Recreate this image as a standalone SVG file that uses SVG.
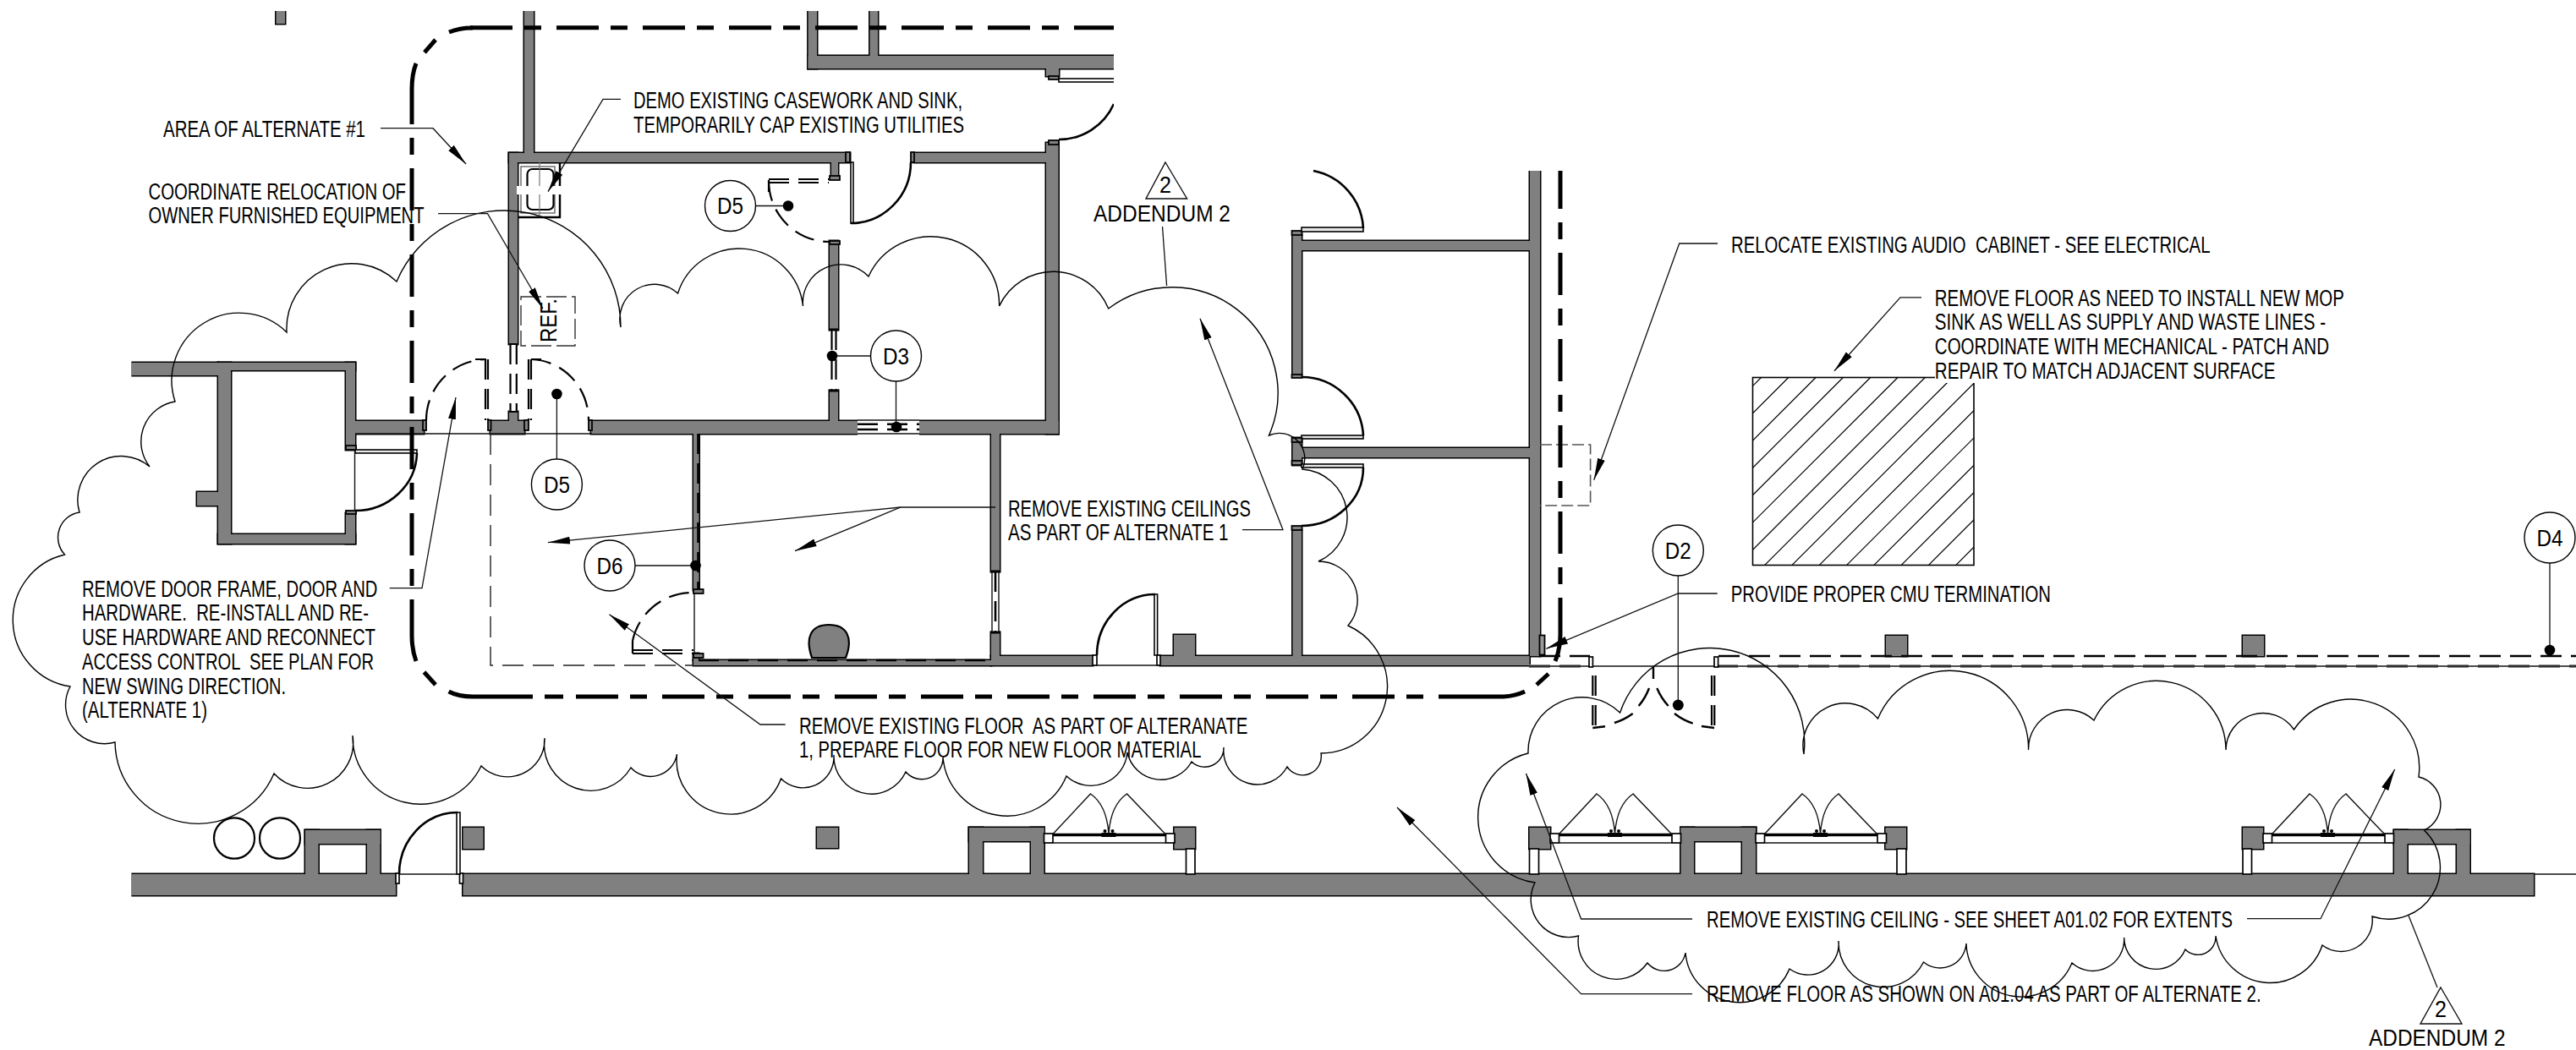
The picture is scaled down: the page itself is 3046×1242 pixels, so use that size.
<svg xmlns="http://www.w3.org/2000/svg" xmlns:xlink="http://www.w3.org/1999/xlink" width="3046" height="1242" viewBox="0 0 3046 1242">
<style>
text{font-family:"Liberation Sans",Arial,sans-serif;font-size:27px;fill:#000;white-space:pre}
.ld{fill:none;stroke:#111;stroke-width:1.3}
.cloud{fill:none;stroke:#000;stroke-width:1.4}
.arc{fill:none;stroke:#000;stroke-width:2.6}
.bound{fill:none;stroke:#000;stroke-width:5}
.demo{fill:none;stroke:#000;stroke-width:2.2;stroke-dasharray:24 11}
.demot{fill:none;stroke:#000;stroke-width:2.6;stroke-dasharray:24 11}
.thin{fill:none;stroke:#111;stroke-width:1.4}
.dash{fill:none;stroke:#222;stroke-width:1.4;stroke-dasharray:25 11}
.leaf{fill:#e8e8e8;stroke:#000;stroke-width:1.6}
.cap{fill:#808080;stroke:#000;stroke-width:1.8}
.open{fill:#fff;stroke:#000;stroke-width:1.7}
.tag{fill:#fff;stroke:#000;stroke-width:1.4}
.dot{fill:#000}
</style>
<defs>
<marker id="arrow" markerUnits="userSpaceOnUse" markerWidth="27" markerHeight="12" refX="26" refY="6" orient="auto"><path d="M0 1.5L26 6L0 10.5Z" fill="#000"/></marker>
<clipPath id="hc"><rect x="2072.5" y="446.5" width="261.5" height="222"/></clipPath>
<g id="wallshapes">
<rect x="326.5" y="5" width="10.5" height="23"/>
<rect x="620" y="5" width="11" height="176"/>
<rect x="602" y="181" width="403" height="11"/>
<rect x="1081" y="181" width="156" height="11"/>
<rect x="602" y="181" width="10" height="226"/>
<rect x="602" y="487" width="10" height="11"/>
<rect x="1237" y="169" width="14.5" height="344"/>
<rect x="419" y="498" width="82" height="15"/>
<rect x="580" y="498" width="40" height="15"/>
<rect x="699" y="498" width="315" height="15"/>
<rect x="1087" y="498" width="164.5" height="15"/>
<rect x="155.6" y="429" width="102.4" height="15"/>
<rect x="258" y="429" width="162" height="9"/>
<rect x="258" y="429" width="15" height="214"/>
<rect x="258" y="632" width="162" height="11"/>
<rect x="409" y="429" width="11" height="103"/>
<rect x="409" y="607" width="11" height="36"/>
<rect x="233" y="582" width="25" height="16"/>
<rect x="983" y="192" width="8" height="16"/>
<rect x="981" y="285" width="10" height="105"/>
<rect x="981" y="462" width="10" height="36"/>
<rect x="955.6" y="5" width="10.4" height="76"/>
<rect x="955.6" y="66" width="380" height="15"/>
<rect x="1028.5" y="5" width="9.5" height="61"/>
<rect x="1237" y="81" width="15" height="9"/>
<rect x="820" y="513" width="6.5" height="185"/>
<rect x="1172" y="513" width="10" height="163"/>
<rect x="1172" y="748" width="10" height="28"/>
<rect x="1172" y="776" width="120" height="11"/>
<rect x="1372" y="776" width="436.5" height="11"/>
<rect x="820" y="781" width="352" height="6"/>
<rect x="820" y="773" width="6" height="8"/>
<rect x="1528.5" y="627" width="10.5" height="149"/>
<rect x="1809" y="190" width="12" height="586"/>
<rect x="1538" y="285" width="271" height="11"/>
<rect x="1528.5" y="278" width="10.5" height="165"/>
<rect x="1528.5" y="518" width="10.5" height="32"/>
<rect x="1539" y="530" width="270" height="11"/>
<rect x="1388" y="751" width="25" height="25"/>
<rect x="2230" y="752" width="25" height="24"/>
<rect x="2652" y="752" width="25" height="24"/>
<rect x="155.6" y="1034" width="312.4" height="25"/>
<rect x="547.5" y="1034" width="2448.5" height="25"/>
<rect x="361" y="982" width="88.5" height="16"/>
<rect x="361" y="982" width="15.5" height="52"/>
<rect x="434" y="982" width="15.5" height="52"/>
<rect x="547.5" y="979" width="24" height="25"/>
<rect x="966" y="979" width="25" height="24"/>
<rect x="1146" y="979" width="88.5" height="16"/>
<rect x="1146" y="979" width="16" height="55"/>
<rect x="1219" y="979" width="15.5" height="55"/>
<rect x="1388.5" y="979" width="24.5" height="25"/>
<rect x="1808.5" y="979" width="24.5" height="25"/>
<rect x="1987.5" y="979" width="88.5" height="16"/>
<rect x="1987.5" y="979" width="15.5" height="55"/>
<rect x="2060" y="979" width="16" height="55"/>
<rect x="2229.5" y="979" width="24.5" height="25"/>
<rect x="2652" y="979" width="24" height="25"/>
<rect x="2831" y="982" width="89.5" height="16"/>
<rect x="2831" y="982" width="15.5" height="52"/>
<rect x="2905" y="982" width="15.5" height="52"/>
</g>
<g id="dw">
<rect class="open" x="0" y="986" width="10.5" height="11"/>
<rect class="open" x="144" y="986" width="10.5" height="11"/>
<path class="thin" d="M10.5 997H144"/>
<path d="M10.5 987.5H144" fill="none" stroke="#000" stroke-width="3.6"/>
<rect x="68" y="985" width="17" height="5" fill="#000"/>
<circle cx="72" cy="983" r="2" fill="#000"/><circle cx="81" cy="983" r="2" fill="#000"/>
<path class="thin" d="M11 986L55 939Q74 952 76.5 986Q79 952 98 939L143 986"/>
</g>
</defs>

<g id="walls">
<use href="#wallshapes" fill="#808080" stroke="#000" stroke-width="3"/>
<use href="#wallshapes" fill="#808080" stroke="none"/>
</g>

<g id="plan-details">
<rect x="602" y="407" width="10" height="80" fill="#fff"/>
<path class="demo" d="M603.5 407V487M610.8 407V487"/>
<path d="M601 407H613M601 487H613" stroke="#000" stroke-width="2"/>
<rect x="981" y="390" width="10" height="72" fill="#fff"/>
<path class="demo" d="M983.5 390V462M988.5 390V462"/>
<path d="M980 390H992M980 462H992" stroke="#000" stroke-width="3"/>
<rect x="1014" y="496" width="73" height="19" fill="#fff"/>
<path class="demot" d="M1014 501.7H1087M1014 508H1087"/>
<path class="thin" d="M1014 497H1087M1014 513H1087"/>
<rect x="1172" y="676" width="10" height="72" fill="#fff"/>
<path class="demot" d="M1177 676V748"/>
<path class="thin" d="M1173 676V748M1181 676V748"/>
<path d="M1171 676H1183M1171 748H1183" stroke="#000" stroke-width="3"/>
<path d="M662 192V257H612" fill="none" stroke="#000" stroke-width="2.4"/>
<rect x="616" y="197" width="40" height="55" fill="none" stroke="#666" stroke-width="1.4"/>
<rect x="623.5" y="200" width="31" height="48" rx="6" fill="none" stroke="#000" stroke-width="2.2"/>
<path d="M638 192V257" stroke="#777" stroke-width="1.2"/>
<rect x="611" y="220" width="54" height="10" fill="#fff"/>
<rect x="616" y="351" width="64" height="58" fill="none" stroke="#333" stroke-width="1.4" stroke-dasharray="24 6"/>
<text transform="translate(658 405) rotate(-90)" textLength="52" lengthAdjust="spacingAndGlyphs" style="font-size:28px">REF.</text>
<rect class="cap" x="409" y="527" width="12" height="5"/>
<rect class="cap" x="409" y="604" width="12" height="4"/>
<rect class="leaf" x="420" y="532" width="73" height="4"/>
<path class="thin" d="M419.5 532V604"/>
<path class="arc" d="M493 536A73 70 0 0 1 420 604"/>
<rect class="cap" x="500" y="497" width="4" height="12"/>
<rect class="cap" x="577" y="497" width="3.5" height="12"/>
<rect class="cap" x="620" y="497" width="5" height="12"/>
<rect class="cap" x="696" y="497" width="4" height="12"/>
<path class="demo" d="M574 425V497M577 425V497M625 425V497M628 425V497M575 425H562M628 425H640"/>
<path class="demo" d="M504 497A72 72 0 0 1 575 425M628 425A70 72 0 0 1 696 497" stroke-dasharray="22 11"/>
<path class="thin" d="M420 513H700"/>
<path class="dash" d="M580 513V787H820"/>
<rect class="cap" x="1000" y="180" width="5" height="12"/>
<rect class="cap" x="1077" y="180" width="4" height="12"/>
<rect class="leaf" x="1006" y="192" width="3" height="72" style="fill:#fff"/>
<path class="arc" d="M1077 192A71 72 0 0 1 1006 264"/>
<rect class="cap" x="981" y="208" width="12" height="5"/>
<rect class="cap" x="981" y="285" width="12" height="4"/>
<path class="demo" d="M909 212H980M909 216H980M909 213V227"/>
<path class="demo" d="M909 214A72 72 0 0 0 981 286" stroke-dasharray="22 11"/>
<rect class="cap" x="1240" y="90" width="12" height="4"/>
<rect x="1252" y="93" width="80" height="4" fill="#fff" stroke="#000" stroke-width="1.6"/>
<rect class="cap" x="1240" y="166" width="12" height="5"/>
<path class="arc" d="M1252 165A71 71 0 0 0 1317 123"/>
<path class="demot" d="M825.5 513V698"/>
<rect class="cap" x="820" y="697" width="11.6" height="5"/>
<rect class="cap" x="820" y="773" width="11.6" height="5"/>
<path class="thin" d="M821 702V773"/>
<path class="demo" d="M748 769H820M748 773H820M748 773V758"/>
<path class="demo" d="M748 758A72 72 0 0 1 820 701" stroke-dasharray="22 11"/>
<path class="demot" d="M826 781H1172"/>
<path d="M960 778C952 755 958 739 980 739C1002 739 1009 755 1000 778Z" fill="#808080" stroke="#000" stroke-width="2.2"/>
<rect class="open" x="1292" y="775" width="5" height="12"/>
<rect class="open" x="1368" y="775" width="4" height="12"/>
<rect class="leaf" x="1365" y="703" width="3.6" height="72" style="fill:#fff"/>
<path class="arc" d="M1297 775A69 72 0 0 1 1366 703"/>
<path class="thin" d="M1297 787H1372"/>
<rect class="cap" x="1527.5" y="273" width="12" height="5"/>
<rect class="cap" x="1527.5" y="443" width="12" height="4"/>
<rect class="leaf" x="1539" y="269" width="73" height="5"/>
<path class="arc" d="M1612 270A73 73 0 0 0 1553 202"/>
<path class="arc" d="M1539 446A73 73 0 0 1 1612 515"/>
<rect class="leaf" x="1539" y="515" width="73" height="4"/>
<rect class="cap" x="1527.5" y="518" width="12" height="5"/>
<rect class="cap" x="1527.5" y="545" width="12" height="5"/>
<rect class="leaf" x="1539" y="549" width="73" height="4"/>
<path class="arc" d="M1612 553A73 69 0 0 1 1539 622"/>
<rect class="cap" x="1527.5" y="622" width="12" height="5"/>
<path d="M1821 526H1880.6V598H1821" fill="none" stroke="#555" stroke-width="1.6" stroke-dasharray="14 5"/>
<rect x="1820.5" y="751.5" width="6" height="23" fill="#999" stroke="#000" stroke-width="1.8"/>
<path d="M1820 776H1880M2032 776H3046" fill="none" stroke="#000" stroke-width="2.4" stroke-dasharray="25 11"/>
<path d="M1808 788H1880M2030 788H3046" fill="none" stroke="#888" stroke-width="4" stroke-dasharray="25 11"/>
<path class="thin" d="M1808 788H3046" stroke-width="1.6"/>
<path class="thin" d="M2996 1034H3046"/>
<rect class="open" x="1879" y="777" width="4.4" height="12"/>
<rect class="open" x="2027" y="777" width="4.6" height="12"/>
<path class="demo" d="M1883.3 789V861M1886.7 789V861M2024 789V861M2027.3 789V861" stroke-dashoffset="-10"/>
<path d="M1883.3 861L1898 859.3M1909 855A72 72 0 0 0 1930.7 844M1937.7 835A72 72 0 0 0 1950 814M1955 789V803M1959.3 814A72 72 0 0 0 1972.7 835M1980 844A72 72 0 0 0 2001.7 855.7M2012 859L2027 861" fill="none" stroke="#000" stroke-width="2.4"/>
<rect x="2072.5" y="446.5" width="261.5" height="222" fill="#fff" stroke="#000" stroke-width="1.6"/>
<path clip-path="url(#hc)" d="M1860.4 668.6l222.1-222.1M1892.7 668.6l222.1-222.1M1925 668.6l222.1-222.1M1957.3 668.6l222.1-222.1M1989.6 668.6l222.1-222.1M2021.9 668.6l222.1-222.1M2054.2 668.6l222.1-222.1M2086.5 668.6l222.1-222.1M2118.8 668.6l222.1-222.1M2151.1 668.6l222.1-222.1M2183.4 668.6l222.1-222.1M2215.7 668.6l222.1-222.1M2248 668.6l222.1-222.1M2280.3 668.6l222.1-222.1M2312.6 668.6l222.1-222.1" fill="none" stroke="#000" stroke-width="1.2"/>
<rect x="2288" y="440" width="52" height="13" fill="#fff"/>
<rect class="open" x="468" y="1033" width="4" height="12"/>
<rect class="open" x="543.5" y="1033" width="4" height="12"/>
<rect class="leaf" x="540" y="961" width="4" height="73" style="fill:#fff"/>
<path class="thin" d="M472 1034H543"/>
<path class="arc" d="M472 1034A69 73 0 0 1 541 961"/>
<ellipse cx="277" cy="991.5" rx="24" ry="24.2" fill="none" stroke="#000" stroke-width="2.2"/>
<ellipse cx="331" cy="991.5" rx="24" ry="24.2" fill="none" stroke="#000" stroke-width="2.2"/>
<use href="#dw" x="1234.5"/>
<use href="#dw" x="1833"/>
<use href="#dw" x="2076"/>
<use href="#dw" x="2676"/>
<rect class="open" x="1402.5" y="1004" width="10.5" height="30"/>
<rect class="open" x="1808.5" y="1004" width="11" height="30"/>
<rect class="open" x="2243" y="1004" width="11" height="30"/>
<rect class="open" x="2652" y="1004" width="10.5" height="30"/>
</g>

<g id="alternate-boundary">
<path class="bound" stroke-dasharray="50 14 20 18" d="M556 32.7H1317"/>
<path class="bound" d="M559 33A72 72 0 0 0 531 38M515 47L502 62M492 75Q487 88 487 105V147"/>
<path class="bound" stroke-dasharray="20 16 50 16" d="M487 163V709"/>
<path class="bound" d="M487 709V752Q487 768 492 782M501.5 795L515 810M530.6 818Q542 824 559 824H630"/>
<path class="bound" stroke-dasharray="50 14 20 18" d="M681 824H1702"/>
<path class="bound" d="M644 824H666M1702 824H1775Q1790 824 1803 818M1817 810L1831 797M1839 782Q1845 768 1845 750V707"/>
<path class="bound" stroke-dasharray="50 16 20 16" stroke-dashoffset="5" d="M1845 202V707"/>
</g>

<g id="revision-clouds">
<path id="cloud-1" class="cloud" d="M207 475A80 80 0 0 1 339 393A77 77 0 0 1 469 333A138 138 0 0 1 734 387A41 41 0 0 1 801.5 347A76 76 0 0 1 949.5 362A45 45 0 0 1 1027 327A81 81 0 0 1 1181.6 362A70.5 70.5 0 0 1 1310.7 365A125 125 0 0 1 1500.5 515A30 30 0 0 1 1540 555A57 57 0 0 1 1559 664A46 46 0 0 1 1594 740A79 79 0 0 1 1562 891A22 22 0 0 1 1522 907A40 40 0 0 1 1447 884A22.5 22.5 0 0 1 1409 901A41 41 0 0 1 1333 890A43 43 0 0 1 1261 918A76 76 0 0 1 1115 896A25 25 0 0 1 1071 913A44.5 44.5 0 0 1 986 893A36.6 36.6 0 0 1 923.5 921A63.6 63.6 0 0 1 800.5 892A31.5 31.5 0 0 1 746 908A55 55 0 0 1 644 873A44 44 0 0 1 569 906A80 80 0 0 1 417 870A54 54 0 0 1 324 915A98 98 0 0 1 136 878A46 46 0 0 1 83 812A79.5 79.5 0 0 1 76.5 656A30 30 0 0 1 94 606A51.6 51.6 0 0 1 177 552A48 48 0 0 1 207 475Z"/>
<path id="cloud-2" class="cloud" d="M1807 891A64 64 0 0 1 1915.6 843A112 112 0 0 1 2133 892A50 50 0 0 1 2220.5 850A92.7 92.7 0 0 1 2398.6 887A46 46 0 0 1 2476 852A82 82 0 0 1 2632 887A44 44 0 0 1 2712.5 863A81 81 0 0 1 2860 919A33.5 33.5 0 0 1 2866.5 982A61 61 0 0 1 2805 1084A37 37 0 0 1 2746 1118A65 65 0 0 1 2620 1107A21 21 0 0 1 2584 1123A37.6 37.6 0 0 1 2511.6 1109A37 37 0 0 1 2450 1139A65 65 0 0 1 2325 1116A31 31 0 0 1 2274.5 1138A53 53 0 0 1 2174 1113A36.5 36.5 0 0 1 2116 1146A64 64 0 0 1 1993 1127A25.6 25.6 0 0 1 1948 1139A45 45 0 0 1 1866.5 1107A44.5 44.5 0 0 1 1815 1044A78 78 0 0 1 1807 891Z"/>
</g>

<g id="masks">
<rect x="0" y="0" width="1400" height="13" fill="#fff"/>
<rect x="1317" y="0" width="220" height="150" fill="#fff"/>
<rect x="1800" y="180" width="60" height="22" fill="#fff"/>
<rect x="148" y="425" width="7.4" height="24" fill="#fff"/>
<rect x="148" y="1030" width="7.4" height="33" fill="#fff"/>
</g>

<g id="connectors">
<path class="ld" marker-end="url(#arrow)" d="M450 151.7H512L551 194"/>
<path class="ld" marker-end="url(#arrow)" d="M518 252.7H576.5L642 365"/>
<path class="ld" marker-end="url(#arrow)" d="M734 117.3H713L648 226.7"/>
<path class="ld" marker-end="url(#arrow)" d="M460.7 695.7H499L539 470"/>
<path class="ld" marker-end="url(#arrow)" d="M1177 600H1065L940 651.7"/>
<path class="ld" marker-end="url(#arrow)" d="M1065 600L648 641.7"/>
<path class="ld" marker-end="url(#arrow)" d="M1469 626.7H1517L1419 376.7"/>
<path class="ld" d="M1374.5 268L1379.6 338"/>
<path class="ld" marker-end="url(#arrow)" d="M928.6 857H899L720.4 726.7"/>
<path class="ld" marker-end="url(#arrow)" d="M2031 288H1985.7L1884.7 567.7"/>
<path class="ld" marker-end="url(#arrow)" d="M2272 351.8H2247L2169 438.7"/>
<path class="ld" marker-end="url(#arrow)" d="M2030.7 702H1984.3L1828.3 767.3"/>
<path class="ld" marker-end="url(#arrow)" d="M2001 1087H1869.6L1804.5 915"/>
<path class="ld" marker-end="url(#arrow)" d="M2657 1086.7H2744L2831.7 910"/>
<path class="ld" marker-end="url(#arrow)" d="M2001 1175.7H1869.6L1652 955"/>
<path class="ld" d="M2848 1083L2882 1168"/>
<path class="ld" d="M893.5 243.5H932"/>
<path class="ld" d="M1030 421H984"/>
<path class="ld" d="M1059.5 451V505"/>
<path class="ld" d="M751 669H822.5"/>
<path class="ld" d="M658.4 466V543"/>
<path class="ld" d="M1984.3 681V834"/>
<path class="ld" d="M3015 666V769"/>
</g>

<g id="tag-d5a"><circle class="tag" cx="863.5" cy="243.5" r="30"/><text x="848" y="253" textLength="31" lengthAdjust="spacingAndGlyphs">D5</text><circle class="dot" cx="932" cy="243.5" r="6.3"/></g>
<g id="tag-d3"><circle class="tag" cx="1059.5" cy="421" r="30"/><text x="1044" y="430.5" textLength="31" lengthAdjust="spacingAndGlyphs">D3</text><circle class="dot" cx="984" cy="421" r="6.3"/><circle class="dot" cx="1060" cy="505" r="6.3"/></g>
<g id="tag-d5b"><circle class="tag" cx="658.4" cy="573" r="30"/><text x="642.9" y="582.5" textLength="31" lengthAdjust="spacingAndGlyphs">D5</text><circle class="dot" cx="658.4" cy="466" r="6.3"/></g>
<g id="tag-d6"><circle class="tag" cx="721" cy="669" r="30"/><text x="705.5" y="678.5" textLength="31" lengthAdjust="spacingAndGlyphs">D6</text><circle class="dot" cx="822.5" cy="669" r="6.3"/></g>
<g id="tag-d2"><circle class="tag" cx="1984.3" cy="651" r="30"/><text x="1968.8" y="660.5" textLength="31" lengthAdjust="spacingAndGlyphs">D2</text><circle class="dot" cx="1984.3" cy="834" r="6.5"/></g>
<g id="tag-d4"><circle class="tag" cx="3015" cy="636" r="30"/><text x="2999.5" y="645.5" textLength="31" lengthAdjust="spacingAndGlyphs">D4</text><circle class="dot" cx="3015" cy="769" r="6.3"/></g>

<g id="addendum-1"><path class="thin" d="M1378 192L1403.6 235H1355Z"/><text x="1371" y="228.3" textLength="14" lengthAdjust="spacingAndGlyphs">2</text><text x="1293" y="261.7" textLength="162" lengthAdjust="spacingAndGlyphs">ADDENDUM 2</text></g>
<g id="addendum-2"><path class="thin" d="M2886 1168L2911 1211H2862Z"/><text x="2879" y="1203" textLength="14" lengthAdjust="spacingAndGlyphs">2</text><text x="2801" y="1237" textLength="161.5" lengthAdjust="spacingAndGlyphs">ADDENDUM 2</text></g>

<g id="note-area"><text x="193" y="161.5" textLength="239" lengthAdjust="spacingAndGlyphs">AREA OF ALTERNATE #1</text></g>
<g id="note-coordinate"><text x="175.5" y="235.7" textLength="304.5" lengthAdjust="spacingAndGlyphs">COORDINATE RELOCATION OF</text><text x="175.5" y="263.7" textLength="326" lengthAdjust="spacingAndGlyphs">OWNER FURNISHED EQUIPMENT</text></g>
<g id="note-demo"><text x="749" y="128" textLength="389" lengthAdjust="spacingAndGlyphs">DEMO EXISTING CASEWORK AND SINK,</text><text x="749" y="156.7" textLength="391" lengthAdjust="spacingAndGlyphs">TEMPORARILY CAP EXISTING UTILITIES</text></g>
<g id="note-door"><text x="97" y="705.7" textLength="349.4" lengthAdjust="spacingAndGlyphs">REMOVE DOOR FRAME, DOOR AND</text><text x="97" y="734.3" textLength="339" lengthAdjust="spacingAndGlyphs">HARDWARE.  RE-INSTALL AND RE-</text><text x="97" y="762.7" textLength="347" lengthAdjust="spacingAndGlyphs">USE HARDWARE AND RECONNECT</text><text x="97" y="791.7" textLength="345" lengthAdjust="spacingAndGlyphs">ACCESS CONTROL  SEE PLAN FOR</text><text x="97" y="820.7" textLength="241" lengthAdjust="spacingAndGlyphs">NEW SWING DIRECTION.</text><text x="97" y="849" textLength="148" lengthAdjust="spacingAndGlyphs">(ALTERNATE 1)</text></g>
<g id="note-ceilings"><text x="1192" y="610.7" textLength="287" lengthAdjust="spacingAndGlyphs">REMOVE EXISTING CEILINGS</text><text x="1192" y="638.7" textLength="260.6" lengthAdjust="spacingAndGlyphs">AS PART OF ALTERNATE 1</text></g>
<g id="note-floor"><text x="945" y="867.7" textLength="530.5" lengthAdjust="spacingAndGlyphs">REMOVE EXISTING FLOOR  AS PART OF ALTERANATE</text><text x="945" y="896" textLength="475.4" lengthAdjust="spacingAndGlyphs">1, PREPARE FLOOR FOR NEW FLOOR MATERIAL</text></g>
<g id="note-relocate"><text x="2047" y="299" textLength="566.5" lengthAdjust="spacingAndGlyphs">RELOCATE EXISTING AUDIO  CABINET - SEE ELECTRICAL</text></g>
<g id="note-mop"><text x="2287.8" y="361.6" textLength="484" lengthAdjust="spacingAndGlyphs">REMOVE FLOOR AS NEED TO INSTALL NEW MOP</text><text x="2287.8" y="390" textLength="462.2" lengthAdjust="spacingAndGlyphs">SINK AS WELL AS SUPPLY AND WASTE LINES -</text><text x="2287.8" y="418.8" textLength="466.2" lengthAdjust="spacingAndGlyphs">COORDINATE WITH MECHANICAL - PATCH AND</text><text x="2287.8" y="447.5" textLength="402.7" lengthAdjust="spacingAndGlyphs">REPAIR TO MATCH ADJACENT SURFACE</text></g>
<g id="note-cmu"><text x="2046.7" y="712" textLength="378.3" lengthAdjust="spacingAndGlyphs">PROVIDE PROPER CMU TERMINATION</text></g>
<g id="note-ceiling-2"><text x="2018" y="1096.7" textLength="622" lengthAdjust="spacingAndGlyphs">REMOVE EXISTING CEILING - SEE SHEET A01.02 FOR EXTENTS</text></g>
<g id="note-floor-2"><text x="2018" y="1185" textLength="655.7" lengthAdjust="spacingAndGlyphs">REMOVE FLOOR AS SHOWN ON A01.04 AS PART OF ALTERNATE 2.</text></g>
</svg>
